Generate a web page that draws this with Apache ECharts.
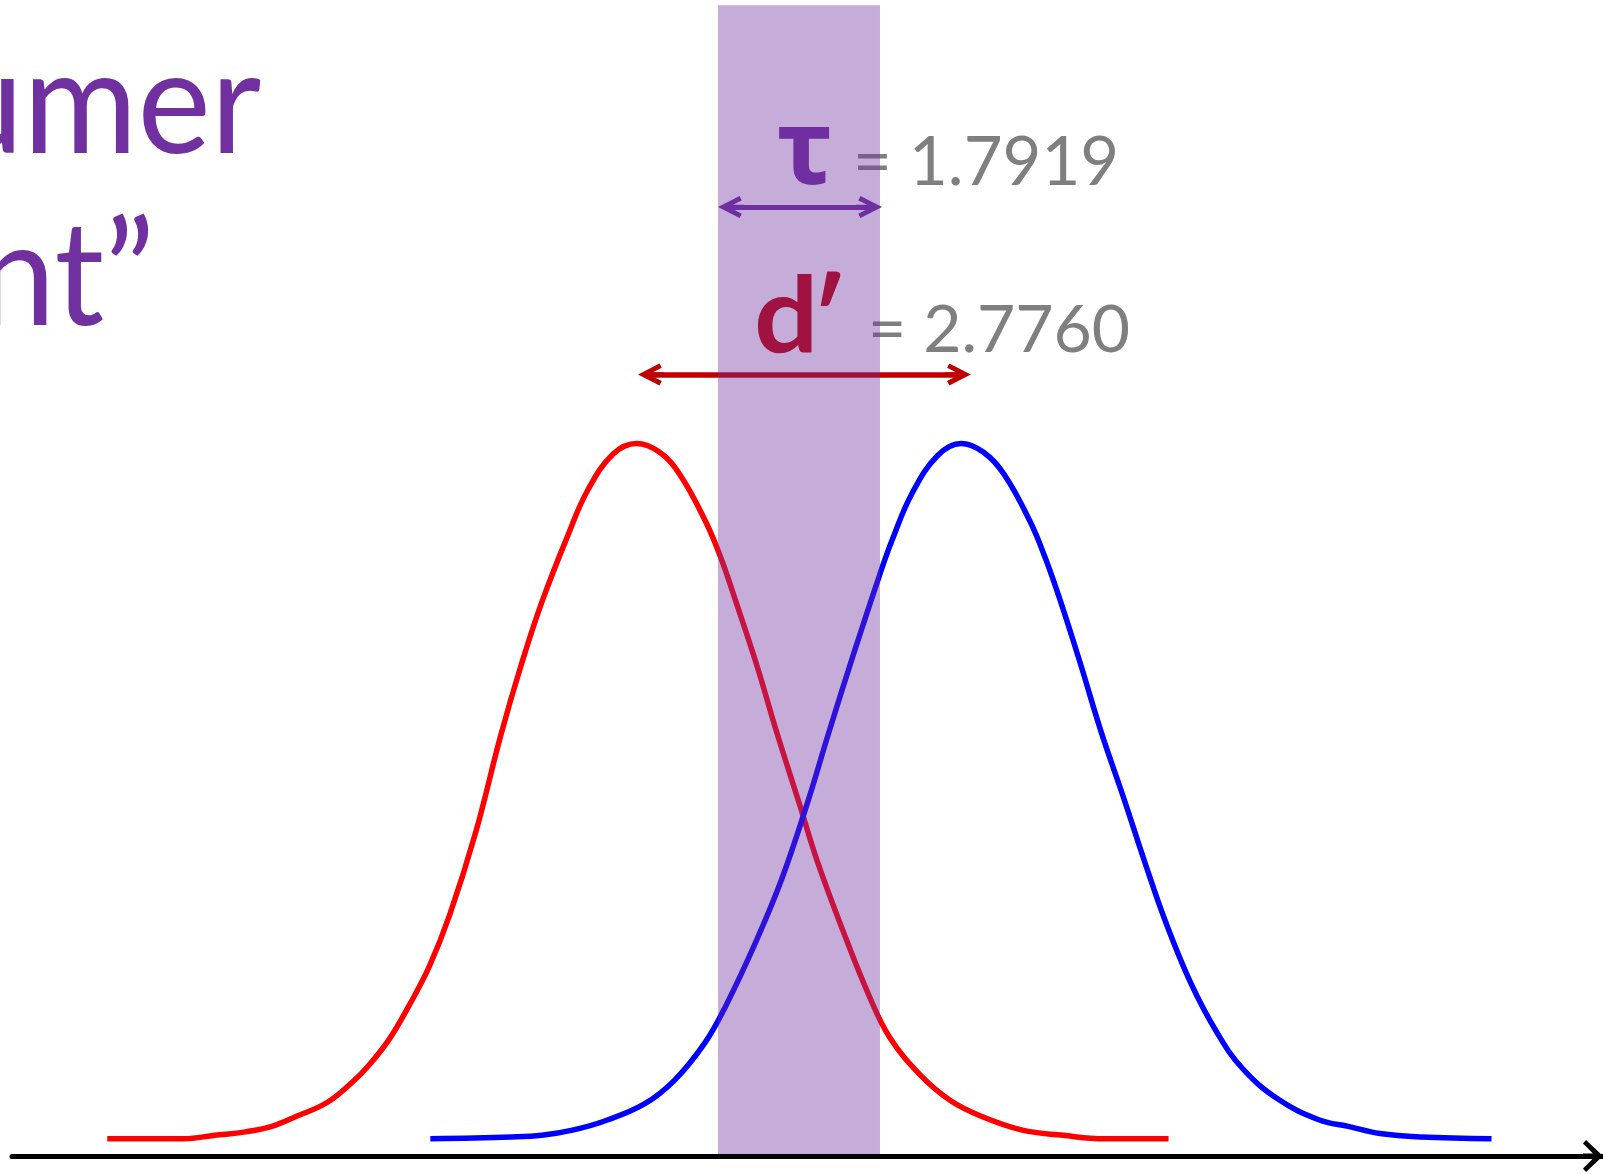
<!DOCTYPE html>
<html>
<head>
<meta charset="utf-8">
<title>d′ / τ</title>
<script src="https://cdn.jsdelivr.net/npm/echarts@6/dist/echarts.min.js"></script>
<style>
html, body { margin: 0; padding: 0; background: #ffffff; }
#main { width: 1603px; height: 1174px; }
</style>
</head>
<body>
<div id="main"></div>
<script>
// x in sd units (noise mean at 0), y = density
var noiseCurve = [
  [-4.534, 0], [-3.876, 0], [-3.613, 0.002], [-3.350, 0.004], [-3.132, 0.007],
  [-2.913, 0.013], [-2.651, 0.021], [-2.431, 0.033], [-2.300, 0.042], [-2.125, 0.057],
  [-1.950, 0.077], [-1.774, 0.100], [-1.599, 0.130], [-1.380, 0.177], [-1.162, 0.234],
  [-0.986, 0.275], [-0.811, 0.311], [-0.592, 0.349], [-0.417, 0.376], [-0.198, 0.397],
  [0, 0.403], [0.196, 0.398], [0.371, 0.385], [0.590, 0.358], [0.721, 0.337],
  [0.853, 0.311], [1.028, 0.275], [1.204, 0.235], [1.396, 0.194], [1.553, 0.160],
  [1.772, 0.120], [1.992, 0.083], [2.167, 0.059], [2.430, 0.037], [2.692, 0.022],
  [2.955, 0.013], [3.305, 0.005], [3.655, 0.002], [4.006, 0], [4.558, 0]
];
var signalCurve = [
  [-1.766, 0], [-1.073, 0.001], [-0.811, 0.002], [-0.548, 0.005], [-0.285, 0.010],
  [0.064, 0.020], [0.327, 0.034], [0.590, 0.056], [0.765, 0.077], [1.028, 0.115],
  [1.247, 0.151], [1.466, 0.195], [1.641, 0.234], [1.860, 0.281], [2.079, 0.326],
  [2.190, 0.347], [2.360, 0.374], [2.580, 0.396], [2.780, 0.403], [2.970, 0.398],
  [3.150, 0.385], [3.370, 0.358], [3.500, 0.337], [3.630, 0.312], [3.800, 0.276],
  [3.980, 0.236], [4.181, 0.196], [4.356, 0.160], [4.531, 0.126], [4.750, 0.090],
  [4.969, 0.062], [5.188, 0.041], [5.495, 0.023], [5.845, 0.011], [6.107, 0.007],
  [6.370, 0.003], [6.721, 0.001], [7.325, 0]
];

// criterion band and the two double arrows
var bandX = [0.698, 2.086];
var bandTop = 0.657;
var tauArrowX = [0.810, 1.992];
var tauArrowY = 0.540;
var dprimeArrowX = [0.124, 2.753];
var dprimeArrowY = 0.443;

// texts
var tauLabel = 'τ';
var tauValue = '= 1.7919';
var dLabel = 'd';
var primeLabel = '′';
var dprimeValue = '= 2.7760';
var titleLines = ['umer', 'nt”'];

var xMin = -5.35, xMax = 8.28;
var yMin = -0.01, yMax = 0.66;

var purple = '#7030a0';
var darkRed = '#c00000';
var grey = '#7f7f7f';

// open arrow heads (point up, echarts rotates them), with a bit of shaft inside
var chevron = 'path://M11,0 L22,21.5 L17.6,23.8 L13.2,15 L13.2,26 L8.8,26 L8.8,15 L4.4,23.8 L0,21.5 Z';
var axisChevron = 'path://M16,0 L32,17 L28.4,20 L18.5,10 L18.5,20 L13.5,20 L13.5,10 L3.6,20 L0,17 Z';

var myChart = echarts.init(document.getElementById('main'));

var option = {
  backgroundColor: '#ffffff',
  animation: false,
  grid: { left: 12, right: 0, top: 0, bottom: 18, containLabel: false, outerBoundsMode: 'none' },
  xAxis: {
    type: 'value',
    min: xMin,
    max: xMax,
    z: 30,
    axisLine: {
      show: true,
      onZero: false,
      symbol: ['none', axisChevron],
      symbolSize: [32, 20],
      symbolOffset: [0, -10],
      lineStyle: { color: '#000000', width: 5 }
    },
    axisTick: { show: false },
    axisLabel: { show: false },
    splitLine: { show: false }
  },
  yAxis: {
    type: 'value',
    min: yMin,
    max: yMax,
    show: false,
    splitLine: { show: false }
  },
  graphic: [
    { type: 'text', x: -54, y: 106, scaleX: 0.95, z: 0, style: { text: titleLines[0], font: '146px Lato', fill: purple, align: 'left', verticalAlign: 'middle' } },
    { type: 'text', x: -22, y: 278, scaleX: 0.95, z: 0, style: { text: titleLines[1], font: '146px Lato', fill: purple, align: 'left', verticalAlign: 'middle' } },
    { type: 'text', x: 805, y: 154, z: 0, style: { text: tauLabel, font: 'bold 104px "Noto Sans"', fill: purple, align: 'center', verticalAlign: 'middle' } },
    { type: 'text', x: 853, y: 163, z: 0, style: { text: tauValue, font: '67px Lato', fill: grey, align: 'left', verticalAlign: 'middle' } },
    { type: 'text', x: 754, y: 318, scaleX: 1.08, z: 0, style: { text: dLabel, font: 'bold 105px Lato', fill: darkRed, align: 'left', verticalAlign: 'middle' } },
    { type: 'text', x: 811, y: 323, z: 0, style: { text: primeLabel, font: 'bold 105px Lato, "Noto Sans"', fill: darkRed, align: 'left', verticalAlign: 'middle' } },
    { type: 'text', x: 868, y: 331, z: 0, style: { text: dprimeValue, font: '66px Lato', fill: grey, align: 'left', verticalAlign: 'middle' } }
  ],
  series: [
    {
      name: 'noise',
      type: 'line',
      data: noiseCurve,
      showSymbol: false,
      smooth: 0.4,
      lineStyle: { color: '#ff0000', width: 5.5 },
      z: 2
    },
    {
      name: 'signal',
      type: 'line',
      data: signalCurve,
      showSymbol: false,
      smooth: 0.4,
      lineStyle: { color: '#0000ff', width: 5.5 },
      z: 2
    },
    {
      name: 'arrows',
      type: 'line',
      data: [],
      z: 3,
      markLine: {
        silent: true,
        symbol: [chevron, chevron],
        symbolSize: [22, 26],
        label: { show: false },
        emphasis: { disabled: true },
        data: [
          [
            { coord: [tauArrowX[0], tauArrowY], lineStyle: { color: purple, width: 5, type: 'solid' } },
            { coord: [tauArrowX[1], tauArrowY] }
          ],
          [
            { coord: [dprimeArrowX[0], dprimeArrowY], lineStyle: { color: darkRed, width: 5.5, type: 'solid' } },
            { coord: [dprimeArrowX[1], dprimeArrowY] }
          ]
        ]
      }
    },
    {
      name: 'band',
      type: 'line',
      data: [],
      z: 10,
      markArea: {
        silent: true,
        z: 20,
        itemStyle: { color: 'rgba(112,48,160,0.4)' },
        emphasis: { disabled: true },
        data: [
          [{ coord: [bandX[0], bandTop] }, { coord: [bandX[1], yMin] }]
        ]
      }
    }
  ]
};

myChart.setOption(option);
</script>
</body>
</html>
